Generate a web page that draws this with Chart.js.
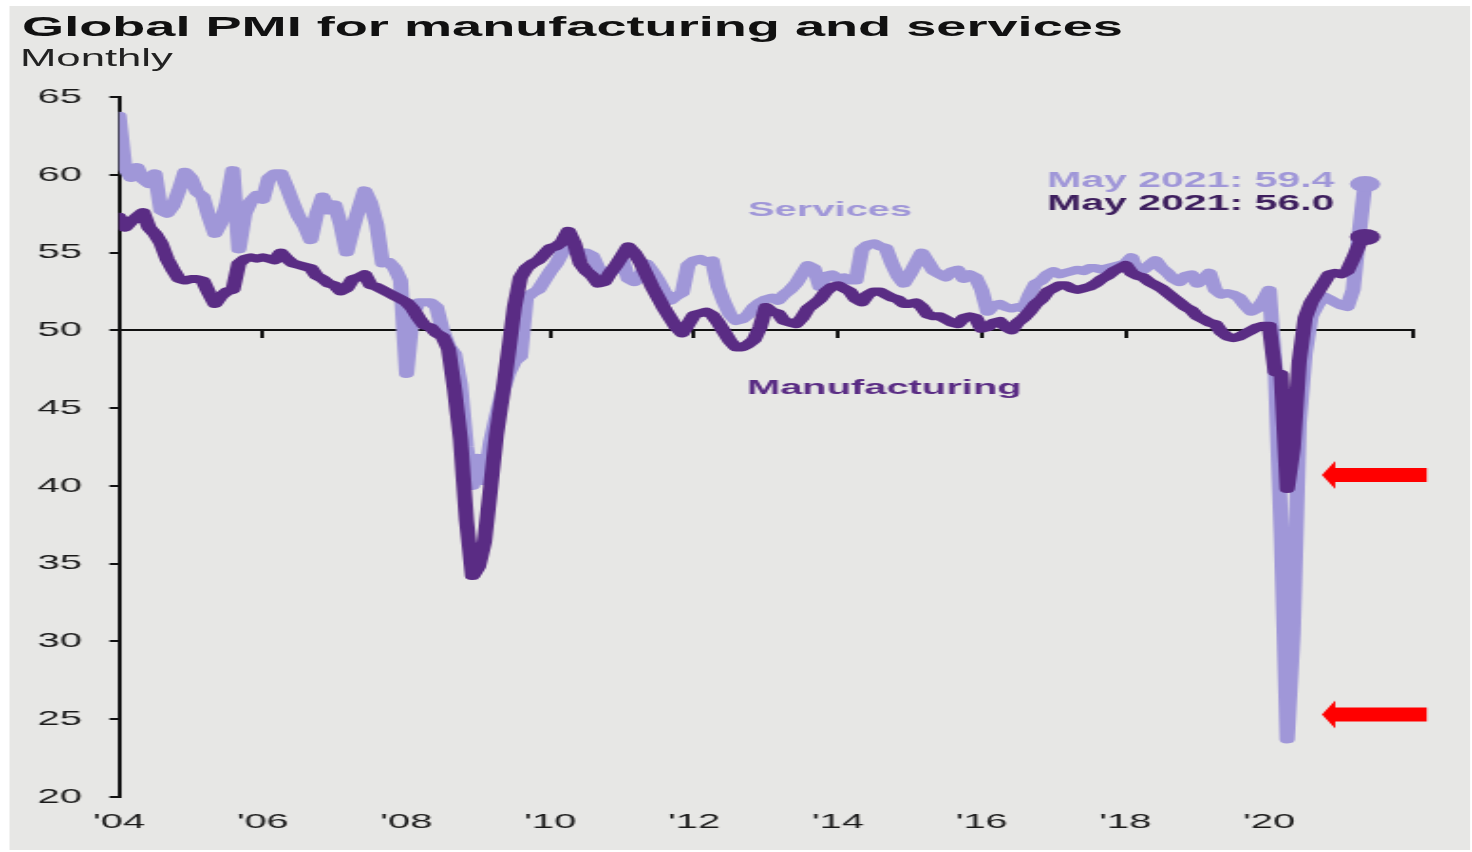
<!DOCTYPE html>
<html>
<head>
<meta charset="utf-8">
<title>Global PMI for manufacturing and services</title>
<script src="https://cdn.jsdelivr.net/npm/chart.js@4.4.1/dist/chart.umd.min.js"></script>
<style>
  html, body { margin: 0; padding: 0; background: #ffffff; overflow: hidden; }
  /* the figure is laid out 775px wide and stretched out to the full window width */
  #figure { position: absolute; left: 0; top: 0; width: 775px; height: 852px; transform: scaleX(1.8994); transform-origin: 0 0; }
  #panel { position: absolute; left: 5.3px; top: 6px; width: 768.4px; height: 844px; background: #e7e7e5; }
  #title { position: absolute; left: 11.6px; top: 12px; font: bold 28.5px/1 "Liberation Sans", Arial, sans-serif; color: #111; white-space: nowrap; }
  #subtitle { position: absolute; left: 10.5px; top: 46.5px; font: 23px/1 "Liberation Sans", Arial, sans-serif; color: #222; white-space: nowrap; }
  #pmiChart { position: absolute; left: 0; top: 0; }
</style>
</head>
<body>
<div id="figure">
  <div id="panel"></div>
  <canvas id="pmiChart" width="775" height="852"></canvas>
  <div id="title">Global PMI for manufacturing and services</div>
  <div id="subtitle">Monthly</div>
</div>
<script>
// monthly readings, Jan 2004 .. May 2021
const yearTicks = ["'04", "'06", "'08", "'10", "'12", "'14", "'16", "'18", "'20"];

const manufacturing = [
  57.3, 56.6, 57.0, 57.3, 57.6, 56.6, 56.2, 55.6, 54.6, 53.9, 53.3, 53.2, // 2004
  53.3, 53.3, 53.2, 52.4, 51.7, 52.2, 52.5, 52.6, 54.3, 54.6, 54.7, 54.6, // 2005
  54.7, 54.6, 54.5, 55.0, 54.6, 54.3, 54.2, 54.1, 54.0, 53.5, 53.3, 53.0, // 2006
  52.9, 52.5, 52.7, 53.3, 53.4, 53.6, 52.9, 52.8, 52.6, 52.4, 52.2, 52.0, // 2007
  51.8, 51.4, 50.8, 50.3, 50.2, 49.8, 49.6, 48.8, 46.2, 43.0, 37.8, 34.2, // 2008
  34.8, 36.4, 39.8, 43.3, 45.8, 48.6, 51.5, 53.4, 54.0, 54.3, 54.5, 54.9, // 2009
  55.3, 55.4, 55.7, 56.4, 55.6, 54.3, 53.8, 53.5, 53.0, 53.1, 53.7, 54.2, // 2010
  54.8, 55.4, 55.0, 54.4, 53.6, 52.8, 52.1, 51.4, 50.8, 50.2, 49.8, 50.4, // 2011
  51.0, 51.1, 51.2, 51.0, 50.5, 49.9, 49.3, 48.9, 48.9, 49.1, 49.4, 50.2, // 2012
  51.5, 51.2, 51.1, 50.6, 50.5, 50.4, 50.8, 51.4, 51.7, 52.0, 52.5, 52.8, // 2013
  52.9, 52.7, 52.5, 52.0, 51.8, 52.3, 52.5, 52.5, 52.3, 52.1, 52.0, 51.7, // 2014
  51.7, 51.8, 51.5, 51.0, 50.9, 50.9, 50.7, 50.5, 50.4, 50.8, 50.9, 50.8, // 2015
  50.1, 50.2, 50.5, 50.6, 50.2, 50.0, 50.5, 50.8, 51.2, 51.7, 52.0, 52.5, // 2016
  52.7, 52.9, 52.9, 52.7, 52.6, 52.7, 52.8, 53.0, 53.3, 53.5, 53.8, 54.0, // 2017
  54.2, 53.7, 53.5, 53.4, 53.1, 52.9, 52.7, 52.4, 52.1, 51.8, 51.5, 51.3, // 2018
  50.9, 50.7, 50.5, 50.4, 49.9, 49.6, 49.5, 49.6, 49.8, 50.0, 50.2, 50.3, // 2019
  50.3, 47.3, 47.2, 39.8, 42.4, 48.0, 50.8, 51.8, 52.4, 53.0, 53.6, 53.7, // 2020
  53.6, 53.8, 54.6, 55.5, 56.0                                            // 2021
];

const services = [
  63.8, 60.4, 59.8, 60.5, 59.7, 59.4, 60.1, 57.7, 57.5, 58.0, 59.0, 60.2, // 2004
  59.8, 58.9, 58.6, 57.3, 56.2, 56.9, 58.2, 60.3, 55.2, 57.5, 58.3, 58.7, // 2005
  58.4, 59.8, 60.1, 60.1, 59.2, 58.2, 57.3, 56.7, 55.8, 57.5, 58.6, 57.7, // 2006
  58.1, 56.8, 55.0, 56.5, 57.8, 59.0, 58.2, 56.8, 54.3, 54.4, 54.0, 53.2, // 2007
  47.2, 51.0, 51.8, 51.8, 51.8, 51.5, 50.0, 49.0, 48.5, 46.5, 42.5, 40.0, // 2008
  41.8, 40.3, 42.8, 44.5, 46.0, 47.2, 48.0, 48.3, 52.1, 52.4, 52.6, 53.2, // 2009
  53.8, 54.3, 55.0, 55.4, 55.1, 55.0, 55.0, 54.8, 54.0, 53.7, 53.7, 54.0, // 2010
  54.6, 53.3, 53.1, 53.5, 54.3, 53.8, 53.2, 52.5, 51.9, 52.2, 52.4, 54.2, // 2011
  54.5, 54.6, 54.4, 54.5, 52.8, 51.8, 51.0, 50.6, 50.7, 51.0, 51.5, 51.8, // 2012
  52.0, 52.1, 51.9, 52.3, 52.6, 53.0, 53.6, 54.2, 54.0, 52.8, 53.5, 53.6, // 2013
  53.3, 53.4, 53.2, 53.2, 55.2, 55.5, 55.6, 55.4, 55.3, 54.3, 53.5, 53.0, // 2014
  53.6, 54.3, 55.0, 54.4, 53.8, 53.6, 53.4, 53.8, 53.9, 53.3, 53.6, 53.4, // 2015
  52.6, 51.2, 51.6, 51.7, 51.5, 51.4, 51.5, 51.4, 52.3, 53.0, 53.2, 53.6, // 2016
  53.8, 53.6, 53.7, 53.8, 53.9, 53.8, 54.0, 54.0, 53.9, 54.0, 54.1, 54.2, // 2017
  54.3, 54.7, 53.7, 53.9, 54.2, 54.5, 54.0, 53.7, 53.3, 53.1, 53.5, 53.6, // 2018
  53.0, 53.3, 53.7, 52.6, 52.3, 52.4, 52.3, 52.1, 51.6, 51.2, 51.4, 51.9, // 2019
  52.6, 47.5, 37.0, 23.7, 30.5, 44.0, 48.5, 50.9, 51.6, 52.2, 52.0, 51.8, // 2020
  51.6, 51.5, 52.6, 56.2, 59.4                                            // 2021
];

const darkPurple = "#5a2c84";
const lightPurple = "#a097d8";
const fontFamily = "'Liberation Sans', Arial, sans-serif";
const lastIndex = services.length - 1;

Chart.defaults.font.family = fontFamily;

const toPoints = (values) => values.map((v, i) => ({ x: i, y: v }));
// only the latest month gets a dot
const endDot = (ctx) => (ctx.dataIndex === lastIndex ? 8 : 0);

// series names, latest readings and the two red arrows
const annotations = {
  id: "pmiAnnotations",
  afterDraw(chart) {
    const { ctx, scales: { x, y } } = chart;
    ctx.save();
    ctx.textAlign = "left";
    ctx.textBaseline = "middle";

    ctx.font = "bold 21px " + fontFamily;
    ctx.fillStyle = lightPurple;
    ctx.fillText("Services", x.getPixelForValue(105), y.getPixelForValue(57.7));
    ctx.fillStyle = darkPurple;
    ctx.fillText("Manufacturing", x.getPixelForValue(104.8), y.getPixelForValue(46.3));

    ctx.font = "bold 21.6px " + fontFamily;
    ctx.fillStyle = lightPurple;
    ctx.fillText("May 2021: " + services[lastIndex].toFixed(1), x.getPixelForValue(154.9), y.getPixelForValue(59.6));
    ctx.fillStyle = "#3e1f5e";
    ctx.fillText("May 2021: " + manufacturing[lastIndex].toFixed(1), x.getPixelForValue(154.9), y.getPixelForValue(58.1));

    ctx.fillStyle = "#ff0000";
    [40.7, 25.3].forEach((level) => {
      const tip = x.getPixelForValue(200.8);
      const tail = x.getPixelForValue(218.3);
      const cy = y.getPixelForValue(level);
      const head = 7;
      ctx.beginPath();
      ctx.moveTo(tip, cy);
      ctx.lineTo(tip + head, cy - 14);
      ctx.lineTo(tip + head, cy - 7);
      ctx.lineTo(tail, cy - 7);
      ctx.lineTo(tail, cy + 7);
      ctx.lineTo(tip + head, cy + 7);
      ctx.lineTo(tip + head, cy + 14);
      ctx.closePath();
      ctx.fill();
    });
    ctx.restore();
  }
};

new Chart(document.getElementById("pmiChart"), {
  type: "line",
  data: {
    datasets: [
      {
        label: "Manufacturing",
        data: toPoints(manufacturing),
        borderColor: darkPurple,
        backgroundColor: darkPurple,
        pointBackgroundColor: darkPurple,
        borderWidth: 8,
        pointRadius: endDot,
        pointBorderWidth: 0
      },
      {
        label: "Services",
        data: toPoints(services),
        borderColor: lightPurple,
        backgroundColor: lightPurple,
        pointBackgroundColor: lightPurple,
        borderWidth: 8,
        pointRadius: endDot,
        pointBorderWidth: 0
      }
    ]
  },
  options: {
    responsive: false,
    animation: false,
    events: [],
    layout: { padding: { left: 0, top: 97, right: 31.1, bottom: 0 } },
    elements: {
      line: { tension: 0, borderJoinStyle: "round", borderCapStyle: "round" }
    },
    plugins: {
      legend: { display: false },
      tooltip: { enabled: false }
    },
    scales: {
      x: {
        type: "linear",
        min: 0,
        max: 216,
        position: "bottom",
        grid: { display: false, drawTicks: false },
        border: { display: false },
        ticks: {
          stepSize: 24,
          autoSkip: false,
          maxRotation: 0,
          padding: 13,
          color: "#1a1a1a",
          font: { size: 21 },
          callback: (value) => yearTicks[value / 24] ?? ""
        },
        afterFit: (scale) => { scale.height = 55; }
      },
      // the 50 line with its year tick marks
      xLine: {
        type: "linear",
        axis: "x",
        min: 0,
        max: 216,
        position: { y: 50 },
        grid: { drawOnChartArea: false, drawTicks: true, tickLength: 7, lineWidth: 2, color: "#111" },
        border: { display: true, color: "#111", width: 2 },
        ticks: { stepSize: 24, display: false }
      },
      y: {
        min: 20,
        max: 65,
        position: "left",
        grid: { drawOnChartArea: false, drawTicks: true, tickLength: 5, lineWidth: 2, color: "#111" },
        border: { display: true, color: "#111", width: 2 },
        ticks: { stepSize: 5, padding: 14.5, color: "#1a1a1a", font: { size: 21 } },
        afterFit: (scale) => { scale.width = 62.65; }
      }
    }
  },
  plugins: [annotations]
});
</script>
</body>
</html>
